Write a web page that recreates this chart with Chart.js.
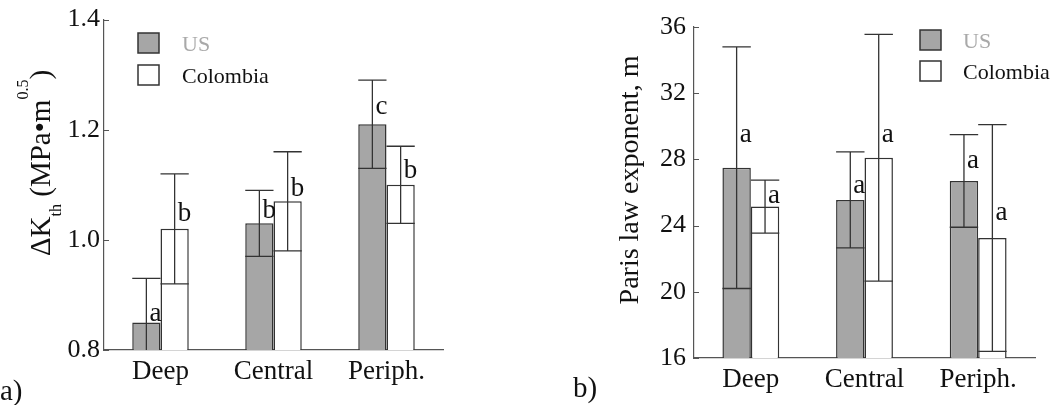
<!DOCTYPE html>
<html>
<head>
<meta charset="utf-8">
<script src="https://cdn.jsdelivr.net/npm/chart.js@4/dist/chart.umd.min.js"></script>
<style>
  html, body { margin: 0; padding: 0; background: #fff; }
  #wrap { position: relative; width: 1050px; height: 405px; }
  .box { position: absolute; top: 0; width: 525px; height: 405px; }
</style>
</head>
<body>
<div id="wrap">
  <div class="box" style="left:0"><canvas id="c1"></canvas></div>
  <div class="box" style="left:525px"><canvas id="c2"></canvas></div>
</div>
<script>
// ---------- data ----------
const categories = ['Deep', 'Central', 'Periph.'];
const seriesNames = ['US', 'Colombia'];

// (a) threshold ΔKth, MPa·m^0.5
const kthUS = [0.85, 1.03, 1.21];
const kthUSErr = [0.08, 0.06, 0.08];
const kthCol = [1.02, 1.07, 1.10];
const kthColErr = [0.10, 0.09, 0.07];
const kthUSLetters = ['a', 'b', 'c'];
const kthColLetters = ['b', 'b', 'b'];
const kthUSLetterAt = [0.853, 1.039, 1.228];
const kthColLetterAt = [1.034, 1.080, 1.113];
const kthTicks = [0.8, 1.0, 1.2, 1.4];

// (b) Paris law exponent m
const mUS = [27.5, 25.55, 26.7];
const mUSErr = [7.3, 2.9, 2.8];
const mCol = [25.15, 28.1, 23.25];
const mColErr = [1.6, 7.45, 6.85];
const mUSLetters = ['a', 'a', 'a'];
const mColLetters = ['a', 'a', 'a'];
const mUSLetterAt = [29.05, 25.97, 27.48];
const mColLetterAt = [25.37, 29.05, 24.34];
const mTicks = [16, 20, 24, 28, 32, 36];

// ---------- styling ----------
const SERIF = '"Liberation Serif", "Times New Roman", serif';
const AXIS = '#555';
const FILL_US = '#a6a6a6';
const EDGE = '#333';

// error bars + letters
const errLetterPlugin = {
  id: 'errLetter',
  afterDatasetsDraw(chart) {
    const ctx = chart.ctx, ys = chart.scales.y, a = chart.chartArea;
    const cfg = chart.options.plugins.errLetter;
    chart.data.datasets.forEach((ds, i) => {
      const meta = chart.getDatasetMeta(i);
      meta.data.forEach((el, j) => {
        const v = ds.data[j], e = cfg.errs[i][j];
        const x = el.x, hw = el.width / 2;
        const yHi = ys.getPixelForValue(v + e), yLo = ys.getPixelForValue(v - e);
        ctx.save();
        ctx.beginPath();
        ctx.rect(a.left, a.top - 2, a.right - a.left, a.bottom - a.top + 2);
        ctx.clip();
        ctx.strokeStyle = EDGE; ctx.lineWidth = 1.3;
        ctx.beginPath();
        ctx.moveTo(x, yLo); ctx.lineTo(x, yHi);
        ctx.moveTo(x - hw, yHi); ctx.lineTo(x + hw, yHi);
        if (yLo < a.bottom - 1) { ctx.moveTo(x - hw, yLo); ctx.lineTo(x + hw, yLo); }
        ctx.stroke();
        ctx.restore();
        // letter
        ctx.save();
        ctx.font = '27px ' + SERIF;
        ctx.fillStyle = '#111';
        ctx.textAlign = 'left'; ctx.textBaseline = 'alphabetic';
        ctx.fillText(cfg.letters[i][j], x + 3, ys.getPixelForValue(cfg.letterAt[i][j]));
        ctx.restore();
      });
    });
  }
};

// inward ticks on y axis
const inTicksPlugin = {
  id: 'inTicks',
  afterDraw(chart) {
    const ctx = chart.ctx, ys = chart.scales.y, a = chart.chartArea;
    ctx.save();
    ctx.strokeStyle = AXIS; ctx.lineWidth = 1;
    ctx.beginPath();
    ys.ticks.forEach(t => {
      const y = Math.round(ys.getPixelForValue(t.value)) + 0.5;
      ctx.moveTo(a.left, y); ctx.lineTo(a.left + 5, y);
    });
    ctx.stroke();
    ctx.restore();
  }
};

// legend + rotated title + panel tag
const decoPlugin = {
  id: 'deco',
  afterDraw(chart) {
    const ctx = chart.ctx;
    const o = chart.options.plugins.deco;
    // legend
    chart.data.datasets.forEach((ds, i) => {
      const by = o.legend.y[i];
      ctx.save();
      ctx.fillStyle = ds.backgroundColor;
      ctx.fillRect(o.legend.x, by, 21, 20);
      ctx.strokeStyle = EDGE; ctx.lineWidth = 1.5;
      ctx.strokeRect(o.legend.x, by, 21, 20);
      ctx.font = '22px ' + SERIF;
      ctx.fillStyle = i === 0 ? '#a9a9a9' : '#111';
      ctx.textAlign = 'left'; ctx.textBaseline = 'middle';
      ctx.fillText(ds.label, o.legend.tx, by + 12);
      ctx.restore();
    });
    // title (rotated rich text)
    ctx.save();
    ctx.translate(0, 0);
    ctx.rotate(-Math.PI / 2);
    ctx.fillStyle = '#111';
    ctx.textBaseline = 'alphabetic';
    ctx.textAlign = 'left';
    let total = 0;
    o.title.parts.forEach(p => { ctx.font = p.size + 'px ' + SERIF; total += ctx.measureText(p.text).width; });
    let u = -(o.title.cy) - total / 2;
    o.title.parts.forEach(p => {
      ctx.font = p.size + 'px ' + SERIF;
      ctx.fillText(p.text, u, o.title.base + (p.dv || 0));
      u += ctx.measureText(p.text).width;
    });
    ctx.restore();
    // panel tag
    ctx.save();
    ctx.font = '29px ' + SERIF;
    ctx.fillStyle = '#111';
    ctx.textAlign = 'left'; ctx.textBaseline = 'alphabetic';
    ctx.fillText(o.tag.text, o.tag.x, o.tag.y);
    ctx.restore();
  }
};

function makeChart(id, o) {
  return new Chart(document.getElementById(id), {
    type: 'bar',
    data: {
      labels: categories,
      datasets: [
        { label: seriesNames[0], data: o.us, backgroundColor: FILL_US, borderColor: EDGE, borderWidth: 1.5, borderSkipped: false },
        { label: seriesNames[1], data: o.col, backgroundColor: '#ffffff', borderColor: EDGE, borderWidth: 1.5, borderSkipped: false }
      ]
    },
    options: {
      responsive: true,
      maintainAspectRatio: false,
      animation: false,
      events: [],
      layout: { padding: { top: o.padTop, right: o.padRight, left: 0, bottom: 0 } },
      datasets: { bar: { categoryPercentage: 0.5, barPercentage: 1.0 } },
      scales: {
        x: {
          grid: { display: false, drawTicks: false },
          border: { display: true, color: AXIS, width: 1.2 },
          ticks: { font: { family: SERIF, size: 27 }, color: '#111', padding: 6, maxRotation: 0 },
          afterFit: s => { s.height = o.xH; }
        },
        y: {
          min: o.min, max: o.max,
          grid: { display: false, drawTicks: false },
          border: { display: true, color: AXIS, width: 1.2 },
          afterBuildTicks: s => { s.ticks = o.tickVals.map(v => ({ value: v })); },
          ticks: {
            font: { family: SERIF, size: 26 }, color: '#111', padding: o.tickPad,
            callback: o.tickFmt
          },
          afterFit: s => { s.width = o.yW; }
        }
      },
      plugins: {
        legend: { display: false },
        tooltip: { enabled: false },
        errLetter: { errs: [o.usErr, o.colErr], letters: [o.usL, o.colL], letterAt: [o.usLA, o.colLA] },
        deco: { legend: o.legend, title: o.title, tag: o.tag }
      }
    },
    plugins: [errLetterPlugin, inTicksPlugin, decoPlugin]
  });
}

// minor ticks for (b) every 2 units between labelled ticks
const mAllTicks = [];
for (let i = 0; i < mTicks.length; i++) {
  mAllTicks.push(mTicks[i]);
  if (i < mTicks.length - 1) mAllTicks.push((mTicks[i] + mTicks[i + 1]) / 2);
}

makeChart('c1', {
  us: kthUS, col: kthCol, usErr: kthUSErr, colErr: kthColErr,
  usL: kthUSLetters, colL: kthColLetters, usLA: kthUSLetterAt, colLA: kthColLetterAt,
  min: 0.8, max: 1.4, tickVals: kthTicks, tickFmt: v => Number(v).toFixed(1), tickPad: 4,
  padTop: 12, padRight: 82, yW: 104, xH: 55,
  legend: { x: 138, y: [33, 65], tx: 182 },
  title: { cy: 163, base: 50, parts: [
    { text: 'ΔK', size: 29 }, { text: 'th', size: 16, dv: 11 },
    { text: ' (MPa•m', size: 29 }, { text: '0.5', size: 16, dv: -22 }, { text: ')', size: 29 }
  ] },
  tag: { text: 'a)', x: 0, y: 400 }
});

makeChart('c2', {
  us: mUS, col: mCol, usErr: mUSErr, colErr: mColErr,
  usL: mUSLetters, colL: mColLetters, usLA: mUSLetterAt, colLA: mColLetterAt,
  min: 16, max: 36, tickVals: mAllTicks, tickFmt: v => (mTicks.includes(v) ? String(v) : ''), tickPad: 8,
  padTop: 27, padRight: 15, yW: 169, xH: 47,
  legend: { x: 395, y: [30, 61], tx: 438 },
  title: { cy: 180, base: 113, parts: [ { text: 'Paris law exponent, m', size: 28 } ] },
  tag: { text: 'b)', x: 48, y: 397 }
});
</script>
</body>
</html>
